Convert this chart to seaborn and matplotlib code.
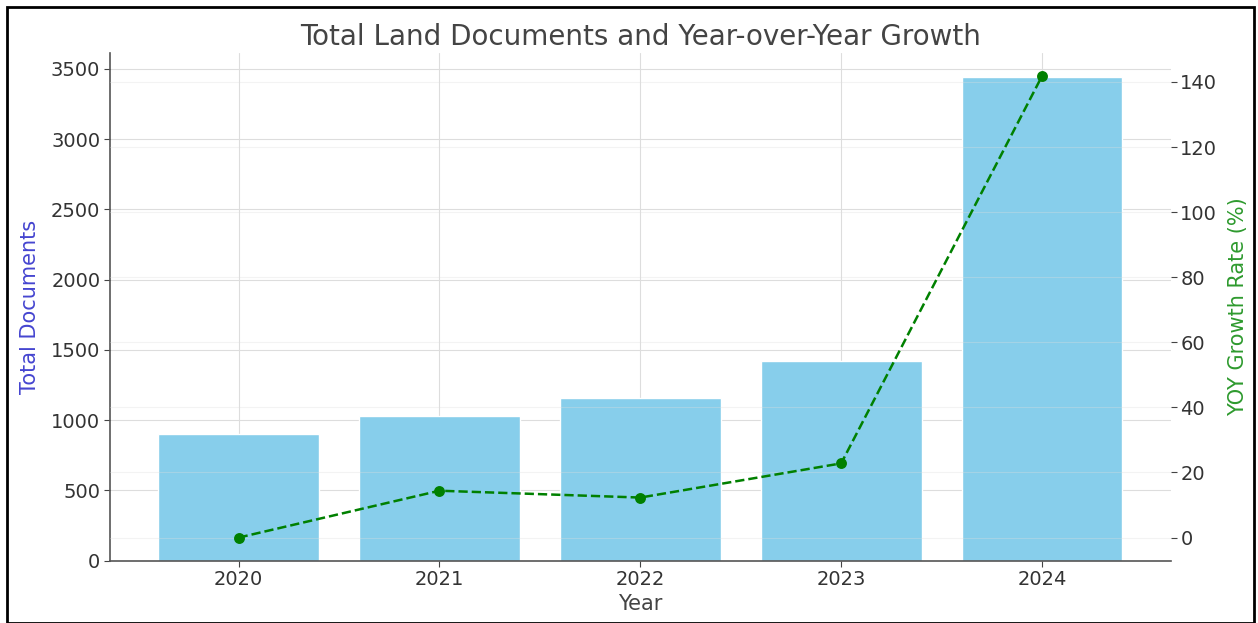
import matplotlib
matplotlib.use("Agg")
import matplotlib.pyplot as plt
import seaborn as sns
import pandas as pd
from matplotlib.patches import Rectangle

years = ["2020", "2021", "2022", "2023", "2024"]
total_documents = [905, 1033, 1160, 1423, 3442]
yoy_growth = [0.0, 14.4, 12.3, 22.8, 141.8]

df = pd.DataFrame({"Year": years, "Total": total_documents, "Growth": yoy_growth})

sns.set_theme(style="whitegrid")
plt.rcParams["font.family"] = ["DejaVu Sans"]
text_col = "#444444"

fig = plt.figure(figsize=(12.58, 6.23), dpi=100)
ax = fig.add_axes([0.0875, 0.1, 0.843, 0.815])

sns.barplot(data=df, x="Year", y="Total", color="#87CEEB", saturation=1, width=0.8, ax=ax)
ax.set_xlim(-0.64, 4.64)
ax.set_ylabel("Total Documents", color="#4545d0", fontsize=15, labelpad=8)
ax.set_xlabel("Year", color=text_col, fontsize=15, labelpad=3)
ax.set_title("Total Land Documents and Year-over-Year Growth", fontsize=20, color=text_col, pad=6)
ax.tick_params(axis="both", colors=text_col, labelsize=14, length=4, width=0.8, left=True, bottom=True, pad=3)
ax.tick_params(axis="both", labelcolor="#333333")
ax.grid(True, color="#dddddd", linewidth=0.8)
for s in ["top", "right"]:
    ax.spines[s].set_visible(False)
for s in ["left", "bottom"]:
    ax.spines[s].set_color("#555555")
    ax.spines[s].set_linewidth(1.2)

ax2 = ax.twinx()
sns.pointplot(data=df, x="Year", y="Growth", color="green", linestyles="--",
              markers="o", markersize=6.5, linewidth=1.8, ax=ax2)
ax2.set_xlim(-0.64, 4.64)
ax2.set_ylim(-7.1, 148.9)
ax2.set_ylabel("YOY Growth Rate (%)", color="#2e9a2e", fontsize=15, labelpad=8)
ax2.tick_params(axis="y", colors=text_col, labelcolor="#333333", labelsize=14, length=4, width=0.8, right=True, pad=3)
ax2.grid(True, axis="y", color="#dddddd", linewidth=0.8, alpha=0.35)
for s in ["top", "right", "left", "bottom"]:
    ax2.spines[s].set_visible(False)

fig.patches.append(Rectangle((7/1258, 0), 1 - 11/1258, 1 - 7/623, transform=fig.transFigure,
                             fill=False, edgecolor="black", linewidth=2))

fig.savefig("out.png", dpi=100)
